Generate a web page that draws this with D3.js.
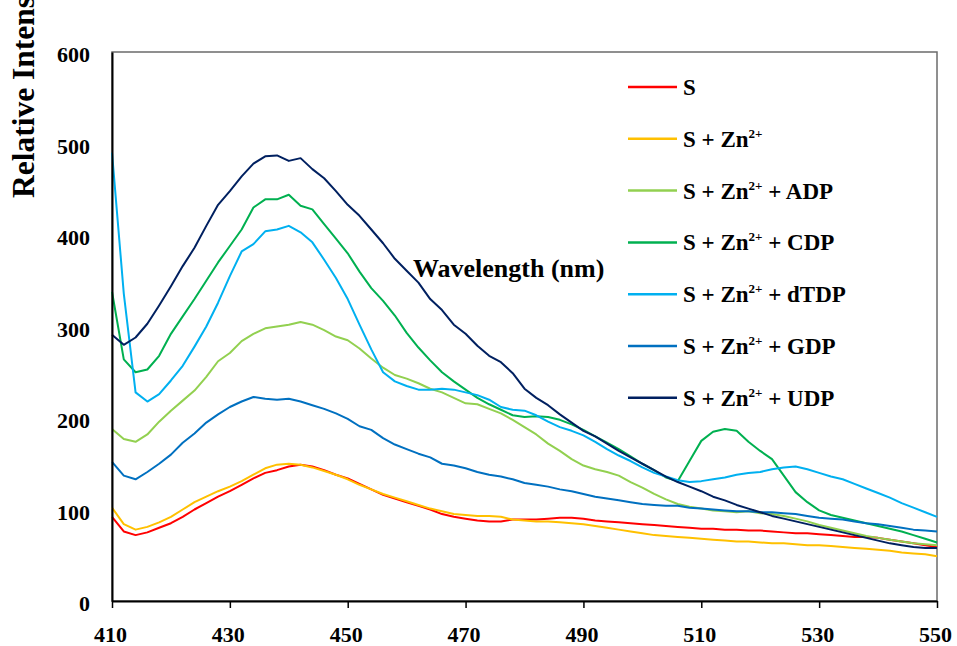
<!DOCTYPE html>
<html>
<head>
<meta charset="utf-8">
<script src="https://cdn.jsdelivr.net/npm/d3@7"></script>
<style>
  html, body { margin: 0; padding: 0; background: #fff; }
  svg { display: block; }
</style>
</head>
<body>
<svg id="chart" width="957" height="646"></svg>
<script>
// Emission wavelengths (nm), 2 nm steps
const wavelengths = [410,412,414,416,418,420,422,424,426,428,430,432,434,436,438,440,442,444,446,448,
  450,452,454,456,458,460,462,464,466,468,470,472,474,476,478,480,482,484,486,488,
  490,492,494,496,498,500,502,504,506,508,510,512,514,516,518,520,522,524,526,528,
  530,532,534,536,538,540,542,544,546,548,550];

const sS = [92,76,72,75,80,85,92,100,107,114,120,127,134,140,143,147,149,147,143,138,
  134,128,122,116,112,108,104,100,95,92,90,88,87,87,89,89,89,90,91,91,
  90,88,87,86,85,84,83,82,81,80,79,79,78,78,77,77,76,75,74,74,
  73,72,71,70,70,69,67,65,63,61,59];

const sZn = [102,84,78,81,86,92,100,108,114,120,125,131,138,145,149,150,149,146,142,138,
  133,127,122,117,113,109,105,101,98,95,94,93,93,92,89,88,87,87,86,85,
  84,82,80,78,76,74,72,71,70,69,68,67,66,65,65,64,63,63,62,61,
  61,60,59,58,57,56,55,53,52,51,49];

const sADP = [188,177,174,182,196,208,219,230,245,262,271,284,292,298,300,302,305,302,296,289,
  285,276,265,255,247,243,238,232,228,222,216,215,210,205,198,190,182,172,164,155,
  148,144,141,137,130,124,117,111,106,103,101,99,98,97,98,96,95,93,90,87,
  83,80,77,74,71,69,67,65,63,62,61];

const sCDP = [338,264,250,253,268,292,311,330,350,370,388,406,430,439,439,444,432,428,412,396,
  380,360,342,328,312,293,277,263,250,240,231,222,215,209,203,201,202,201,198,193,
  187,180,173,166,158,150,143,135,131,153,175,185,188,186,174,164,155,137,119,108,
  99,94,91,88,85,82,79,76,72,68,64];

const sDTDP = [490,336,228,218,226,241,257,278,300,326,355,382,390,404,406,410,403,392,373,353,
  330,302,275,250,240,235,231,231,232,231,228,225,220,212,209,208,203,196,190,186,
  181,174,166,159,153,146,140,136,132,130,131,133,135,138,140,141,144,146,147,144,
  140,136,133,128,123,118,113,107,102,97,92];

const sGDP = [152,137,133,141,150,160,173,183,195,204,212,218,223,221,220,221,218,214,210,205,
  199,191,187,178,171,166,161,157,150,148,145,141,138,136,133,129,127,125,122,120,
  117,114,112,110,108,106,105,104,104,102,101,100,99,98,98,97,97,96,95,93,
  91,90,89,87,85,84,82,80,78,77,76];

const sUDP = [291,280,288,303,323,344,366,386,410,433,448,464,478,486,487,481,484,472,462,448,
  433,421,406,391,374,361,348,330,318,302,292,279,268,261,249,232,222,214,204,195,
  186,180,172,164,157,150,143,136,130,125,120,114,110,105,101,97,93,90,87,84,
  81,78,75,72,69,66,63,61,59,58,58];

const seriesNames = ["S", "S + Zn", "S + Zn + ADP", "S + Zn + CDP", "S + Zn + dTDP", "S + Zn + GDP", "S + Zn + UDP"];
const seriesSuffix = ["", "", " + ADP", " + CDP", " + dTDP", " + GDP", " + UDP"];
const seriesColors = ["#ff0000", "#ffc000", "#92d050", "#00b050", "#00b0f0", "#0070c0", "#002060"];
const seriesValues = [sS, sZn, sADP, sCDP, sDTDP, sGDP, sUDP];

const xTicks = [410, 430, 450, 470, 490, 510, 530, 550];
const yTicks = [0, 100, 200, 300, 400, 500, 600];

const FONT = "'Liberation Serif', 'Times New Roman', Times, serif";

const svg = d3.select("#chart")
  .attr("font-family", FONT)
  .attr("font-weight", "bold");
const plotLeft = 112, plotRight = 937, plotTop = 52, plotBottom = 601;

const x = d3.scaleLinear().domain([410, 550]).range([plotLeft, plotRight]);
const y = d3.scaleLinear().domain([0, 600]).range([plotBottom, plotTop]);

// plot frame
svg.append("rect")
  .attr("x", plotLeft).attr("y", plotTop)
  .attr("width", plotRight - plotLeft).attr("height", plotBottom - plotTop)
  .attr("fill", "none").attr("stroke", "#6b6b6b").attr("stroke-width", 1.5);

// data lines
const line = d3.line()
  .x((d, i) => x(wavelengths[i]))
  .y(d => y(d));

svg.append("g").selectAll("path")
  .data(seriesValues)
  .join("path")
  .attr("d", line)
  .attr("fill", "none")
  .attr("stroke", (d, i) => seriesColors[i])
  .attr("stroke-width", 2)
  .attr("stroke-linejoin", "round");

// x axis
const xAxis = svg.append("g")
  .attr("transform", `translate(0,${plotBottom})`)
  .call(d3.axisBottom(x).tickValues(xTicks).tickSize(7).tickSizeOuter(0).tickPadding(18))
  .attr("font-family", FONT).attr("font-size", 22).attr("font-weight", "bold");
xAxis.select(".domain").attr("stroke", "#000").attr("stroke-width", 2);
xAxis.selectAll(".tick line").attr("stroke", "#000").attr("stroke-width", 1.5);
xAxis.selectAll(".tick text").attr("fill", "#000").attr("dx", -2);

// y axis
const yAxis = svg.append("g")
  .attr("transform", `translate(${plotLeft},0)`)
  .call(d3.axisLeft(y).tickValues(yTicks).tickSize(0).tickSizeOuter(0).tickPadding(22))
  .attr("font-family", FONT).attr("font-size", 22).attr("font-weight", "bold");
yAxis.select(".domain").attr("stroke", "#000").attr("stroke-width", 2);
yAxis.selectAll(".tick text").attr("fill", "#000").attr("dy", "0.45em");

// axis titles
svg.append("text")
  .attr("transform", "translate(34,198) rotate(-90)")
  .attr("text-anchor", "start")
  .attr("font-size", 31.5)
  .attr("fill", "#000")
  .text("Relative Intensity");

svg.append("text")
  .attr("x", 413).attr("y", 277)
  .attr("font-size", 26)
  .attr("fill", "#000")
  .text("Wavelength (nm)");

// legend
const legend = svg.append("g");
const rows = legend.selectAll("g")
  .data(seriesNames)
  .join("g")
  .attr("transform", (d, i) => `translate(628,${87 + i * 51.8})`);

rows.append("line")
  .attr("x1", 0).attr("x2", 49)
  .attr("stroke", (d, i) => seriesColors[i])
  .attr("stroke-width", 2.5);

rows.each(function(d, i) {
  const t = d3.select(this).append("text")
    .attr("x", 55).attr("y", 8)
    .attr("font-size", 23)
    .attr("fill", "#000");
  if (i === 0) {
    t.text("S");
  } else {
    t.append("tspan").text("S + Zn");
    t.append("tspan").attr("font-size", 13).attr("dy", -9).text("2+");
    t.append("tspan").attr("dy", 9).text(seriesSuffix[i]);
  }
});
</script>
</body>
</html>
